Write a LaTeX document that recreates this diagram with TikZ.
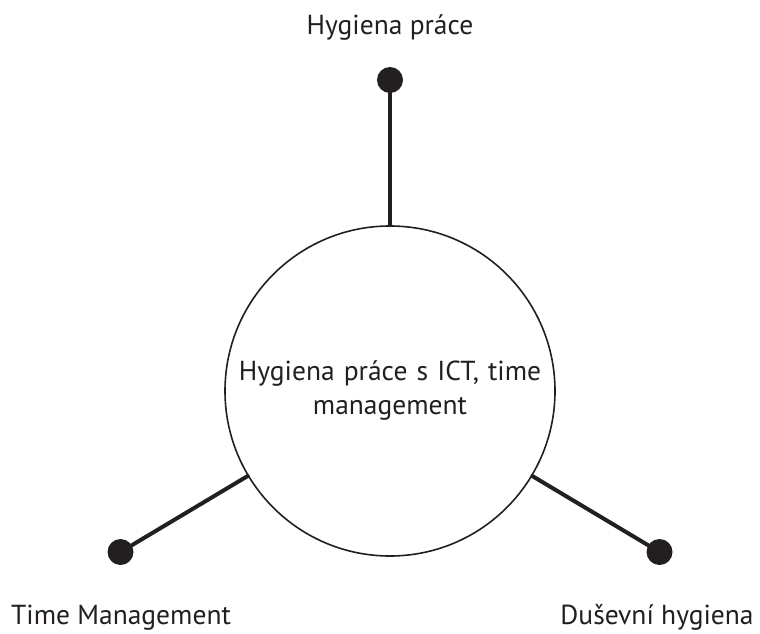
\documentclass[tikz,border=0pt]{standalone}
\usepackage{fontspec}
\setmainfont{PT Sans}
\definecolor{ink}{RGB}{35,31,32}

\begin{document}
\begin{tikzpicture}[x=1pt, y=-1pt, line cap=round, line join=round, color=ink,
  hub/.style={circle, draw, line width=1.6pt, minimum size=330pt, inner sep=0pt,
    align=center, text width=320pt, font=\fontsize{27.5}{34}\selectfont},
  pin/.style={circle, fill=ink, inner sep=0pt, minimum size=26pt},
  spoke/.style={line width=4pt},
  tag/.style={anchor=base, inner sep=0pt, font=\fontsize{27.5}{32}\selectfont}]

  %% ════ 中心圆 ════
  \node[hub] (ict) at (390,391) {Hygiena práce s ICT, time\\management};

  %% ════ 端点圆点 ════
  \node[pin] (top)   at (390,80)    {};
  \node[pin] (left)  at (120.5,552) {};
  \node[pin] (right) at (659.5,552) {};

  %% ════ 连线 ════
  \draw[spoke] (ict) -- (top);
  \draw[spoke] (ict) -- (left);
  \draw[spoke] (ict) -- (right);

  %% ════ 标签 ════
  \node[tag] (toptext)   at (390,35)  {Hygiena práce};
  \node[tag] (lefttext)  at (121,624) {Time Management};
  \node[tag] (righttext) at (657,624) {Duševní hygiena};

  % 钉死画布
  \pgfresetboundingbox
  \path[use as bounding box] (0,0) rectangle (760,634);
\end{tikzpicture}
\end{document}
